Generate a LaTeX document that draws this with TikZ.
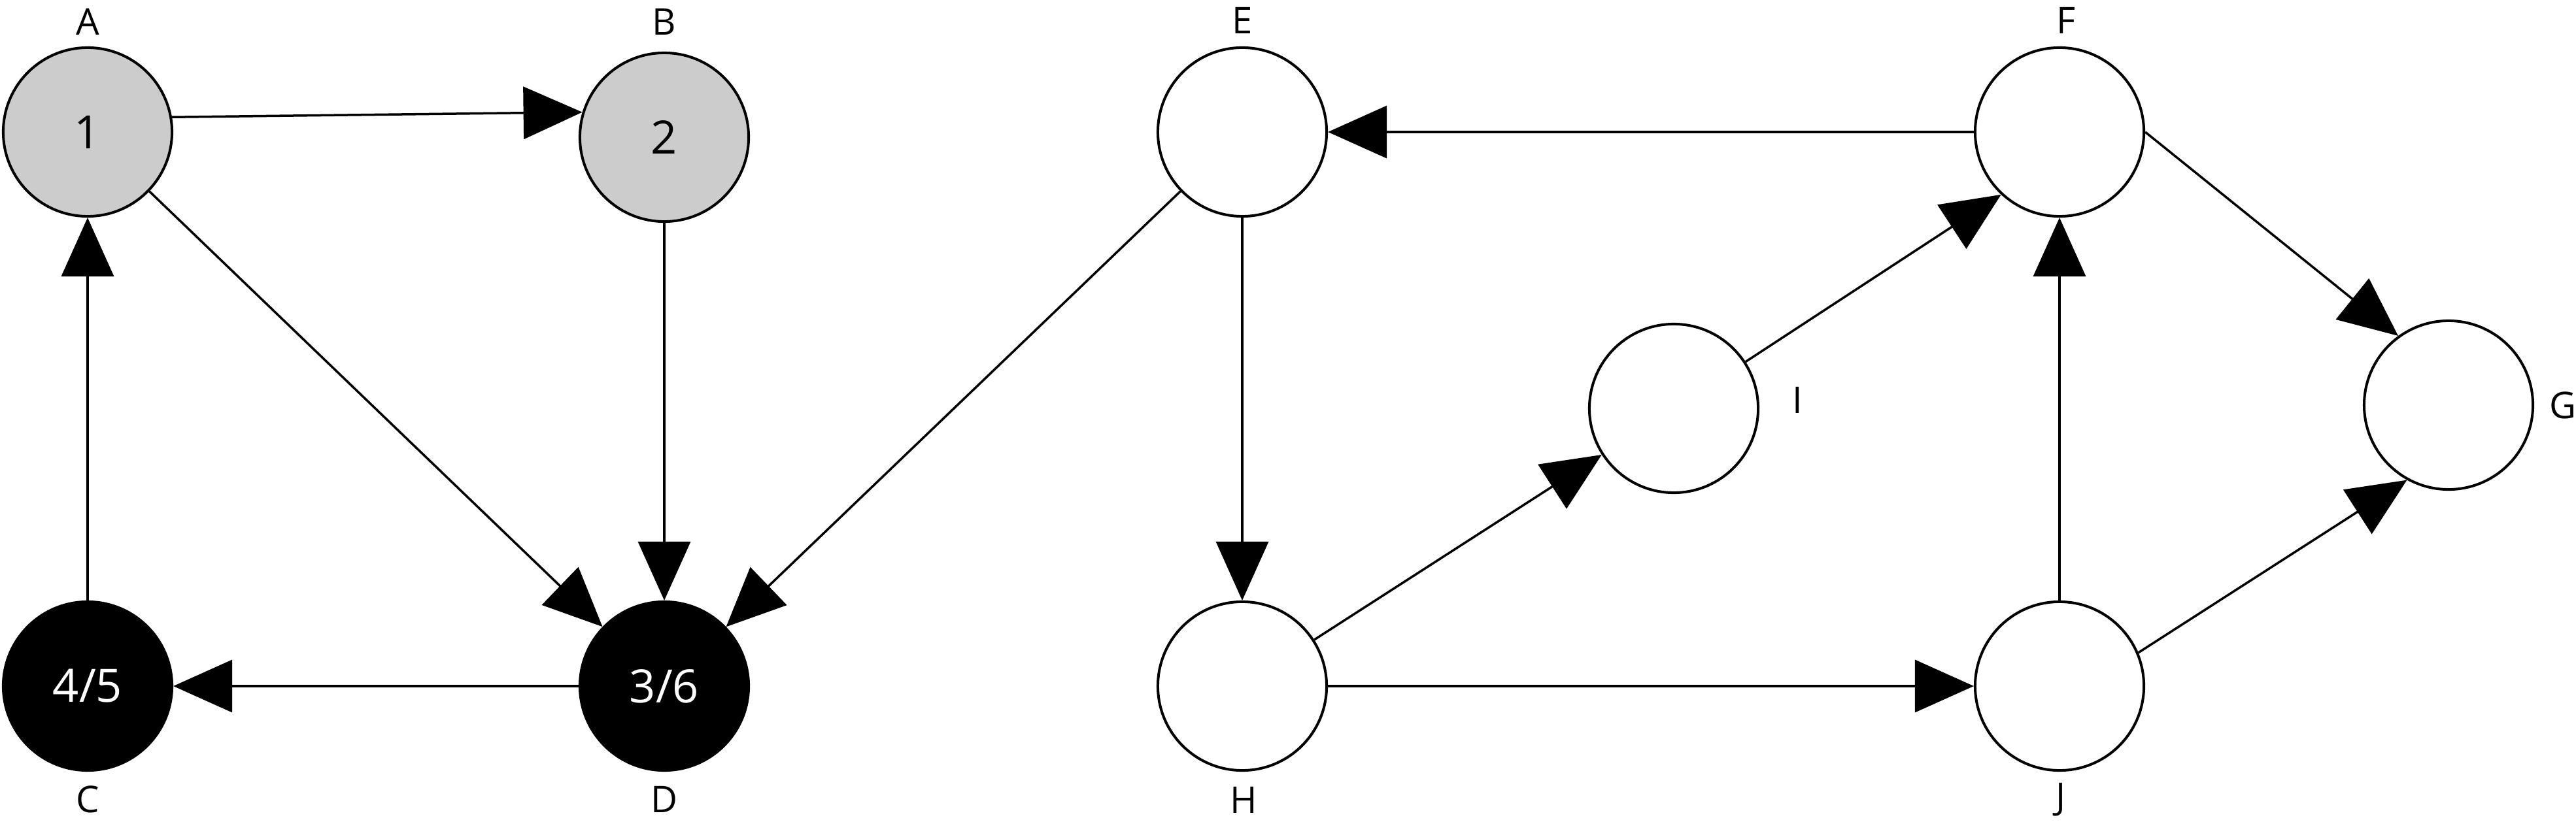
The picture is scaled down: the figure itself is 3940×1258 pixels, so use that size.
\documentclass[tikz,border=0pt]{standalone}
\usepackage{fontspec}
\setmainfont{Open Sans}
\usetikzlibrary{arrows.meta}
\definecolor{nodegray}{HTML}{CCCCCC}
\begin{document}
\begin{tikzpicture}[x=0.01cm,y=-0.01cm,
  vtx/.style={circle,draw,line width=0.04cm,minimum size=2.58cm,inner sep=0pt,font=\fontsize{20}{20}\selectfont},
  grayv/.style={vtx,fill=nodegray},
  blackv/.style={vtx,fill=black,text=white},
  whitev/.style={vtx,fill=white},
  lbl/.style={font=\fontsize{16}{16}\selectfont,inner sep=0pt},
  edge/.style={line width=0.035cm,-{Triangle[length=0.9cm,width=0.8cm]}}]
\useasboundingbox (0,0) rectangle (3940,1258);
\node[grayv] (A) at (134,202) {1};
\node[grayv] (B) at (1016,210) {2};
\node[blackv] (C) at (134,1050) {4/5};
\node[blackv] (D) at (1016,1050) {3/6};
\node[whitev] (E) at (1900,202) {};
\node[whitev] (F) at (3150,202) {};
\node[whitev] (G) at (3745,620) {};
\node[whitev] (I) at (2560,625) {};
\node[whitev] (H) at (1900,1050) {};
\node[whitev] (J) at (3150,1050) {};
\node[lbl] (lA) at (134,33) {A};
\node[lbl] (lB) at (1016,33) {B};
\node[lbl] (lC) at (134,1223) {C};
\node[lbl] (lD) at (1016,1223) {D};
\node[lbl] (lE) at (1900,31) {E};
\node[lbl] (lF) at (3160,31) {F};
\node[lbl] (lG) at (3920,620) {G};
\node[lbl] (lI) at (2749,612) {I};
\node[lbl] (lH) at (1902,1224) {H};
\node[lbl] (lJ) at (3152,1224) {J};
\draw[edge] (A.10) -- (B.163);
\draw[edge] (A) -- (D);
\draw[edge] (B) -- (D);
\draw[edge] (C) -- (A);
\draw[edge] (D) -- (C);
\draw[edge] (E) -- (D);
\draw[edge] (E) -- (H);
\draw[edge] (F) -- (E);
\draw[edge] (F.0) -- (G.126);
\draw[edge] (I.33) -- (F.227);
\draw[edge] (J) -- (F);
\draw[edge] (H) -- (I);
\draw[edge] (H) -- (J);
\draw[edge] (J.23) -- (G.241);
\end{tikzpicture}
\end{document}
